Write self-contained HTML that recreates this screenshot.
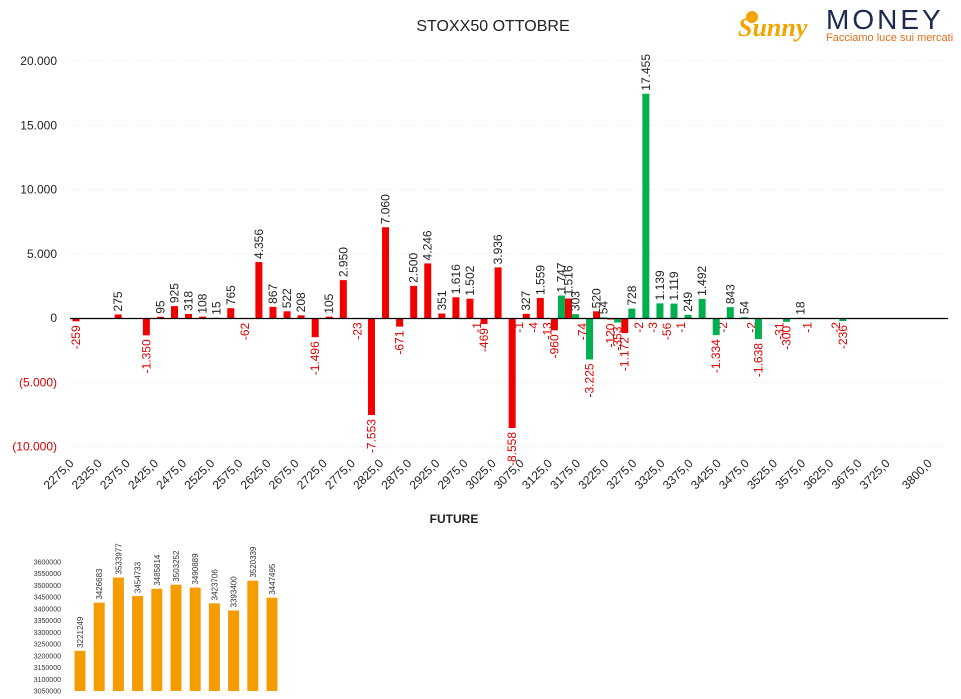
<!DOCTYPE html>
<html><head><meta charset="utf-8">
<style>
body{margin:0;background:#fff;width:961px;height:699px;overflow:hidden;font-family:"Liberation Sans",sans-serif;}
svg{position:absolute;left:0;top:0}
</style></head>
<body>
<svg id="c" width="961" height="699" xmlns="http://www.w3.org/2000/svg">
  <text x="493" y="31" text-anchor="middle" font-size="16" fill="#222">STOXX50 OTTOBRE</text>
  <text x="454" y="523" text-anchor="middle" font-size="12" font-weight="bold" fill="#222">FUTURE</text>
  <g>
    <circle cx="752" cy="17" r="6" fill="#f5a300"/>
    <text x="738" y="36" font-size="26" font-style="italic" font-weight="bold" fill="#f5a300" font-family="Liberation Serif,serif">Sunny</text>
    <text x="826" y="29" font-size="28" fill="#1c2a4f" letter-spacing="3">MONEY</text>
    <text x="826" y="41" font-size="11" fill="#e0701a">Facciamo luce sui mercati</text>
  </g>
  <g id="main"></g>
  <g id="fut"></g>
</svg>
<script>
const categories = [];
for (let k = 2275; k <= 3800; k += 25) categories.push(k);
// red series (index -> value)
const redValues = {0:-259,3:275,5:-1350,6:95,7:925,8:318,9:108,10:15,11:765,12:-62,13:4356,14:867,15:522,16:208,17:-1496,18:105,19:2950,20:-23,21:-7553,22:7060,23:-671,24:2500,25:4246,26:351,27:1616,28:1502,29:-469,30:3936,31:-8558,32:327,33:1559,34:-960,35:1516,36:-74,37:520,38:-120,39:-1172,40:-2,41:-3,42:-56,43:-1,46:-2,48:-2,50:-31,52:-1,54:-2};
const greenValues = {29:-1,32:-1,33:-4,34:-13,35:1747,36:303,37:-3225,38:54,39:-353,40:728,41:17455,42:1139,43:1119,44:249,45:1492,46:-1334,47:843,48:54,49:-1638,51:-300,52:18,55:-236};
const yTicks = [20000,15000,10000,5000,0,-5000,-10000];
const futValues = [3221249,3426683,3533977,3454733,3485814,3503252,3490889,3423706,3393400,3520339,3447495];
const futTicks = [3600000,3550000,3500000,3450000,3400000,3350000,3300000,3250000,3200000,3150000,3100000,3050000];

const NS = "http://www.w3.org/2000/svg";
function mk(tag, attrs, parent, txt){const e=document.createElementNS(NS,tag);for(const k in attrs)e.setAttribute(k,attrs[k]);if(txt!==undefined)e.textContent=txt;parent.appendChild(e);return e;}
const fmt = v => Math.abs(v).toLocaleString('de-DE');
const y = v => 318 - v*0.012850;
const xc = i => 72.5 + i*14.07;
const main = document.getElementById('main');

yTicks.forEach(t=>{
  if(t!==0){const g=mk('line',{x1:70,x2:945,y1:y(t),y2:y(t),stroke:'#e6e6e6','stroke-dasharray':'1,2'},main);
  
  }
  const lab = t<0?'('+fmt(t)+')':fmt(t);
  const tx=mk('text',{x:57,y:y(t)+4,'text-anchor':'end','font-size':12,fill:t<0?'#e00000':'#222'},main,lab);
  
  
});
const last = categories.length-1;
categories.forEach((c,i)=>{
  if((i%2===0 && i<last-2) || i===last){
    const X=xc(i)+2, Y=464;
    const tx=mk('text',{x:X,y:Y,'text-anchor':'end','font-size':12,fill:'#222',transform:`rotate(-45 ${X} ${Y})`},main,c+',0');
    
    
  }
});
function series(vals, off, color, nm){
  for(const k in vals){
    const v=vals[k], i=+k, x=xc(i)+off;
    const top=Math.min(y(v),318), h=Math.abs(y(v)-318);
    const b=mk('rect',{x:x-3.5,y:top,width:7,height:Math.max(h,0.5),fill:color},main);
    
    
    let lx=x+4, ly;
    let t;
    if(v>=0){ly=y(v)-3; t=mk('text',{x:lx,y:ly,'font-size':12,fill:'#222',transform:`rotate(-90 ${lx} ${ly})`},main,fmt(v));}
    else {ly=Math.max(y(v),318)+4; t=mk('text',{x:lx,y:ly,'font-size':12,fill:'#e00000','text-anchor':'end',transform:`rotate(-90 ${lx} ${ly})`},main,'-'+fmt(v));}
    
    
  }
}
series(redValues,3.5,'#f00000','call');
series(greenValues,-3.5,'#00b050','put');
const ax=mk('line',{x1:70,x2:948,y1:318.5,y2:318.5,stroke:'#000','stroke-width':1.3},main);



const fut=document.getElementById('fut');
const fy = v => 691 - (v-3050000)*(129/550000);
futTicks.forEach(t=>{
  const tx=mk('text',{x:61,y:fy(t)+2.5,'text-anchor':'end','font-size':7,fill:'#333'},fut,t);
  
  
});
futValues.forEach((v,i)=>{
  const cx=80+i*19.2;
  const r=mk('rect',{x:cx-5.5,y:fy(v),width:11,height:691-fy(v),fill:'#f59c00'},fut);
  
  
  const lx=cx+3, ly=fy(v)-3;
  const t=mk('text',{x:lx,y:ly,'font-size':8,fill:'#333',transform:`rotate(-90 ${lx} ${ly})`},fut,v);
  
  
});
</script>
</body></html>
